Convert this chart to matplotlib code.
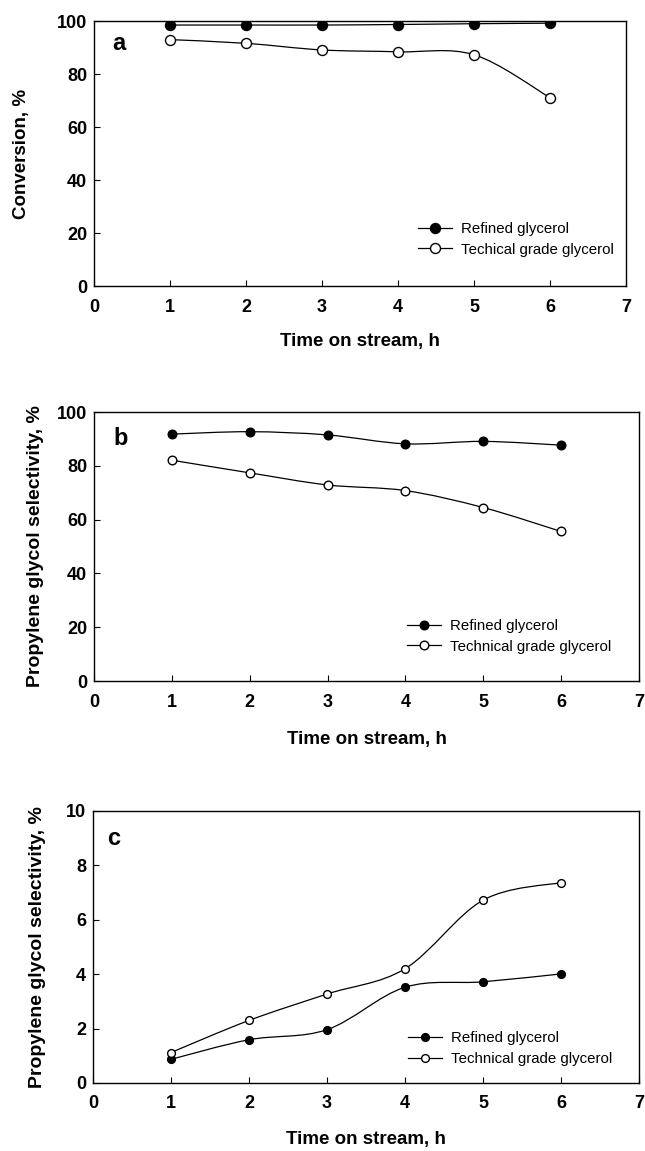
import numpy as np
import matplotlib
matplotlib.use("Agg")
import matplotlib.pyplot as plt
from matplotlib.path import Path
from matplotlib.patches import PathPatch

plt.rcParams['font.family'] = ['Liberation Sans', 'DejaVu Sans']

# data
hours = [1, 2, 3, 4, 5, 6]

conv_refined = [98.5, 98.5, 98.5, 98.7, 99.0, 99.2]
conv_tech = [93.0, 91.6, 89.1, 88.4, 87.3, 71.1]

sel_refined = [91.8, 92.7, 91.5, 88.2, 89.1, 87.7]
sel_tech = [82.1, 77.4, 72.9, 70.8, 64.5, 55.6]

c_refined = [0.87, 1.59, 1.96, 3.52, 3.72, 4.01]
c_tech = [1.12, 2.30, 3.27, 4.20, 6.72, 7.37]

labels_a = ["Refined glycerol", "Techical grade glycerol"]
labels_bc = ["Refined glycerol", "Technical grade glycerol"]


def smooth_line(ax, x, y):
    # catmull-rom spline through the points, drawn as bezier path
    p = np.column_stack([x, y]).astype(float)
    ext = np.vstack([p[0], p, p[-1]])
    verts = [p[0]]
    codes = [Path.MOVETO]
    for i in range(1, len(ext) - 2):
        c1 = ext[i] + (ext[i + 1] - ext[i - 1]) / 6.0
        c2 = ext[i + 1] - (ext[i + 2] - ext[i]) / 6.0
        verts += [c1, c2, ext[i + 1]]
        codes += [Path.CURVE4] * 3
    ax.add_patch(PathPatch(Path(verts, codes), fill=False, lw=0.9,
                           edgecolor='black', zorder=2))


def panel(rect, yref, ytech, ymax, letter, labels, ylabel, ylsize, ms,
          leg_anchor, letter_pos, ylab_x, xlab_y):
    ax = fig.add_axes(rect)
    smooth_line(ax, hours, yref)
    smooth_line(ax, hours, ytech)
    ax.plot(hours, yref, 'o', ms=ms, mfc='black', mec='black', mew=1, zorder=3)
    ax.plot(hours, ytech, 'o', ms=ms, mfc='white', mec='black', mew=1, zorder=3)
    # legend handles
    h1, = ax.plot([], [], '-o', color='black', ms=ms, mfc='black', lw=0.9)
    h2, = ax.plot([], [], '-o', color='black', ms=ms, mfc='white', lw=0.9)
    ax.legend([h1, h2], labels, loc='upper left', bbox_to_anchor=leg_anchor,
              frameon=False, borderaxespad=0, borderpad=0,
              handlelength=2.25, handletextpad=0.6, labelspacing=0.45,
              fontsize=10.8)
    ax.set_xlim(0, 7)
    ax.set_ylim(0, ymax)
    ax.set_xticks(range(0, 8))
    ax.set_yticks(np.linspace(0, ymax, 6))
    ax.tick_params(direction='in', length=4, width=0.8, labelsize=13)
    ax.tick_params(axis='x', pad=9)
    ax.tick_params(axis='y', pad=5)
    for t in ax.get_xticklabels() + ax.get_yticklabels():
        t.set_fontweight('bold')
    for s in ax.spines.values():
        s.set_linewidth(1.0)
    yl = ax.set_ylabel(ylabel, fontsize=ylsize, fontweight='bold')
    yl.set_va('center')
    ax.yaxis.set_label_coords(ylab_x, 0.5)
    xl = ax.set_xlabel("Time on stream, h", fontsize=13.5, fontweight='bold')
    xl.set_va('center')
    ax.xaxis.set_label_coords(0.5, xlab_y)
    ax.text(letter_pos[0], letter_pos[1], letter, transform=ax.transAxes,
            fontsize=17, fontweight='bold', va='center', ha='left')
    return ax


fig = plt.figure(figsize=(6.45, 11.51), dpi=100)

panel([0.1457, 0.7515, 0.8248, 0.2302], conv_refined, conv_tech, 100, 'a',
      labels_a, "Conversion, %", 13.5, 7.2, (0.609, 0.242), (0.035, 0.915),
      -0.137, -0.2075)
panel([0.1457, 0.4083, 0.845, 0.2337], sel_refined, sel_tech, 100, 'b',
      labels_bc, "Propylene glycol selectivity, %", 14, 6.2, (0.574, 0.231),
      (0.035, 0.9), -0.107, -0.2156)
panel([0.1442, 0.0591, 0.8465, 0.2363], c_refined, c_tech, 10, 'c',
      labels_bc, "Propylene glycol selectivity, %", 14, 5.6, (0.577, 0.191),
      (0.025, 0.9), -0.101, -0.2096)

fig.savefig("out.png", dpi=100)
